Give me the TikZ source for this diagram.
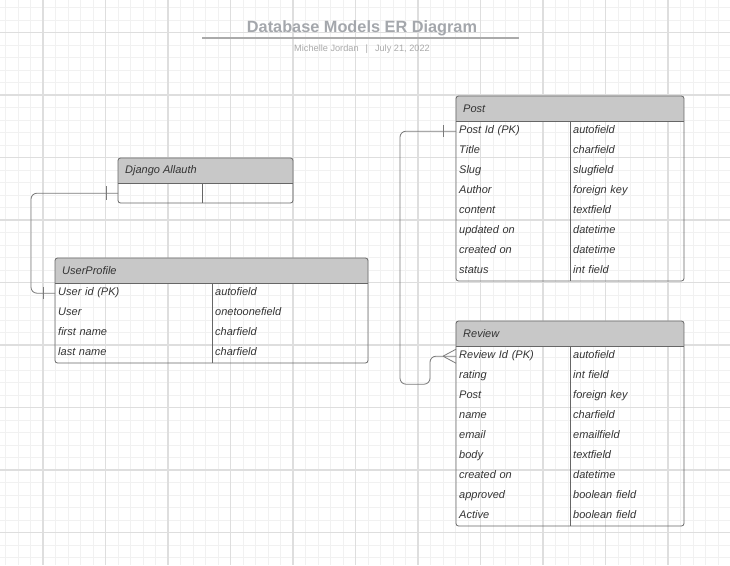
\documentclass[tikz,border=0pt]{standalone}
\usepackage{fontspec}
\setmainfont{Liberation Sans}

\definecolor{gridminor}{HTML}{F1F1F1}
\definecolor{gridmajor}{HTML}{DEDEDE}
\definecolor{headgray}{HTML}{C8C8C8}
\definecolor{framegray}{HTML}{666666}
\definecolor{linkgray}{HTML}{7A7A7A}
\definecolor{inkgray}{HTML}{333333}
\definecolor{titlegray}{HTML}{A4A7AC}
\definecolor{subgray}{HTML}{AAAAAA}

\tikzset{
  minorline/.style={gridminor, line width=1pt},
  majorline/.style={gridmajor, line width=1.3pt},
  frame/.style={draw=framegray, line width=0.8pt, rounded corners=2.5pt},
  divider/.style={framegray, line width=0.8pt},
  headtext/.style={anchor=west, inner sep=0pt, text=inkgray,
    font=\fontsize{11}{13}\selectfont\itshape},
  cell/.style={anchor=north west, minimum height=20pt, inner xsep=3pt,
    inner ysep=0pt, text width=#1, align=left, text height=8pt,
    text depth=2.5pt, text=inkgray, font=\fontsize{11}{13}\selectfont\itshape},
  link/.style={draw=linkgray, line width=0.8pt},
}

% table frame: x0, y0, x1, y1, bottom of header, column split
\newcommand{\erframe}[6]{%
  \begin{scope}
    \clip[rounded corners=2.5pt] (#1,#2) rectangle (#3,#4);
    \fill[headgray] (#1,#2) rectangle (#3,#5);
  \end{scope}
  \draw[frame] (#1,#2) rectangle (#3,#4);
  \draw[divider] (#1,#5) -- (#3,#5) (#6,#5) -- (#6,#4);
}

\begin{document}
\begin{tikzpicture}[x=1pt, y=-1pt]
  \useasboundingbox (0,0) rectangle (730,565);
  \fill[white] (0,0) rectangle (730,565);

  % grid paper
  \foreach \x in {5.5,18,...,730} \draw[minorline] (\x,0) -- (\x,565);
  \foreach \y in {7.5,20,...,565} \draw[minorline] (0,\y) -- (730,\y);
  \foreach \x in {43,105.5,...,730} \draw[majorline] (\x,0) -- (\x,565);
  \foreach \y in {32.5,95,...,565} \draw[majorline] (0,\y) -- (730,\y);

  % title
  \node[anchor=base, inner sep=0pt, text=titlegray,
    font=\fontsize{16.3}{19}\selectfont\bfseries] (title) at (362,32.5)
    {Database Models ER Diagram};
  \draw[subgray, line width=1.8pt] (202,38) -- (519,38);
  \node[anchor=base, inner sep=0pt, text=subgray,
    font=\fontsize{9.2}{11}\selectfont] (byline) at (362,51.5)
    {Michelle Jordan\hspace{7pt}|\hspace{7pt}July 21, 2022};

  % Django Allauth
  \erframe{118}{158}{293}{203}{183}{202}
  \node[headtext] (allauth) at (125,170.5) {Django Allauth};
  \node[cell=78pt] (allauth-l) at (118,183) {};
  \node[cell=85pt] (allauth-r) at (202,183) {};

  % UserProfile
  \erframe{55}{258}{368}{363}{283}{212}
  \node[headtext] (upro) at (62,270.5) {UserProfile};
  \foreach \k/\t [count=\i from 0] in {User id (PK)/autofield,
      User/onetoonefield, first name/charfield, last name/charfield} {
    \node[cell=151pt] (upro-k\i) at (55,283+20*\i) {\k};
    \node[cell=150pt] (upro-t\i) at (212,283+20*\i) {\t};
  }

  % Post
  \erframe{456}{96}{684}{281}{121}{570}
  \node[headtext] (post) at (463,108.5) {Post};
  \foreach \k/\t [count=\i from 0] in {Post Id (PK)/autofield,
      Title/charfield, Slug/slugfield, Author/foreign key,
      content/textfield, updated on/datetime, created on/datetime,
      status/int field} {
    \node[cell=108pt] (post-k\i) at (456,121+20*\i) {\k};
    \node[cell=108pt] (post-t\i) at (570,121+20*\i) {\t};
  }

  % Review
  \erframe{456}{321}{684}{526}{346}{570}
  \node[headtext] (review) at (463,333.5) {Review};
  \foreach \k/\t [count=\i from 0] in {Review Id (PK)/autofield,
      rating/int field, Post/foreign key, name/charfield,
      email/emailfield, body/textfield, created on/datetime,
      approved/boolean field, Active/boolean field} {
    \node[cell=108pt] (review-k\i) at (456,346+20*\i) {\k};
    \node[cell=108pt] (review-t\i) at (570,346+20*\i) {\t};
  }

  % relations
  \draw[link, rounded corners=6pt] (allauth-l.west) -- ++(-87,0) |- (upro-k0.west);
  \draw[link] ([xshift=-12pt]allauth-l.west) ++(0,-7) -- ++(0,14);
  \draw[link] ([xshift=-12pt]upro-k0.west) ++(0,-6) -- ++(0,12);

  \draw[link, rounded corners=6pt] (post-k0.west) -| ++(-56,253) -- ++(30,0)
    |- (review-k0.west);
  \draw[link] ([xshift=-13pt]post-k0.west) ++(0,-6) -- ++(0,12);
  \draw[link] ([xshift=-13pt]review-k0.west) -- ([yshift=7pt]review-k0.west)
    ([xshift=-13pt]review-k0.west) -- ([yshift=-7pt]review-k0.west);
\end{tikzpicture}
\end{document}
